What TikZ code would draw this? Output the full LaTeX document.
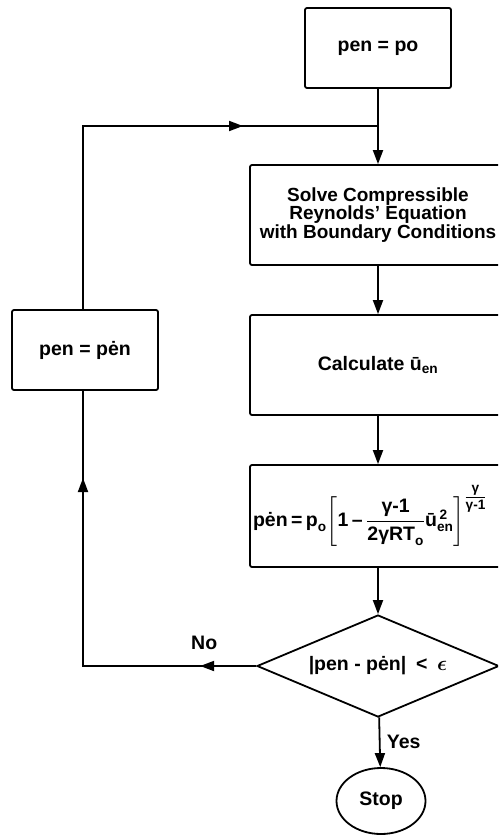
\documentclass[tikz,border=0pt]{standalone}
\usepackage{amsmath}
\usepackage{fontspec}
\setmainfont{Liberation Sans}
\usetikzlibrary{arrows.meta,positioning,shapes.geometric,decorations.markings}

\newcommand{\pen}{pen}
\newcommand{\pstar}{p\.{e}n}

\begin{document}
\begin{tikzpicture}[
  x=1pt, y=-1pt,
  font=\bfseries\fontsize{19.5}{16.5}\selectfont,
  line width=1.8pt,
  b/.style={draw, rounded corners=2pt, align=center, inner sep=0pt},
  arr/.style={-{Triangle[length=14pt,width=10pt]}},
  tip/.style={-{Triangle[length=14pt,width=10pt]}}
]
\clip (0,0) rectangle (498,835);
\useasboundingbox (0,0) rectangle (498,835);

\node[b, minimum width=146pt, minimum height=80pt] (init) at (378,48) {\pen{} = po};
\node[b, minimum width=256pt, minimum height=100pt, font=\bfseries\fontsize{19}{16.5}\selectfont] (solve) at (378,215)
  {Solve Compressible\\ Reynolds' Equation\\ with Boundary Conditions};
\node[b, minimum width=256pt, minimum height=100pt] (calc) at (378,365) {Calculate ū$_{\text{en}}$};
\node[b, minimum width=256pt, minimum height=102pt, inner xsep=3pt, text width=250pt, align=left] (pnew) at (378,516)
  {$\text{\pstar}\,\text{=}\,\text{p}_{\text{o}}\!\left[\text{1}\,\text{–}\,\dfrac{\text{γ-1}}{\text{2γRT}_{\text{o}}}\text{ū}_{\text{en}}^{\,\text{2}}\right]^{\textstyle\frac{\text{γ}}{\text{γ-1}}}$};
\node[draw, shape=diamond, aspect=2.37, inner sep=0pt, minimum width=242pt, minimum height=102pt] (test) at (378,666)
  {|\pen{} - \pstar|\enspace <\enspace $\boldsymbol{\epsilon}$};
\node[draw, shape=ellipse, inner sep=0pt, minimum width=89pt, minimum height=66pt] (stop) at (381,801) {Stop};
\node[b, minimum width=146pt, minimum height=80pt] (reset) at (85,350) {\pen{} = \pstar};

\coordinate (join) at (378,126);
\coordinate (topleft) at (83,126);
\coordinate (botleft) at (83,666);

% main column
\draw[arr] (init) -- (solve);
\draw[arr] (solve) -- (calc);
\draw[arr] (calc) -- (pnew);
\draw[arr] (pnew) -- (test);
\draw[arr] (test) -- node[right=3pt] (yes) {Yes} (stop);

% feedback loop
\draw (test.west) -- node[pos=0.3, above=12pt] (no) {No} (botleft) -- (reset.south -| botleft);
\draw (reset.north -| topleft) -- (topleft) -- (join);
\draw[tip] (test.west) -- ++(-56,0);
\draw[tip] (botleft) -- ++(0,-188);
\draw[tip] (topleft) -- ++(160,0);
\end{tikzpicture}
\end{document}
